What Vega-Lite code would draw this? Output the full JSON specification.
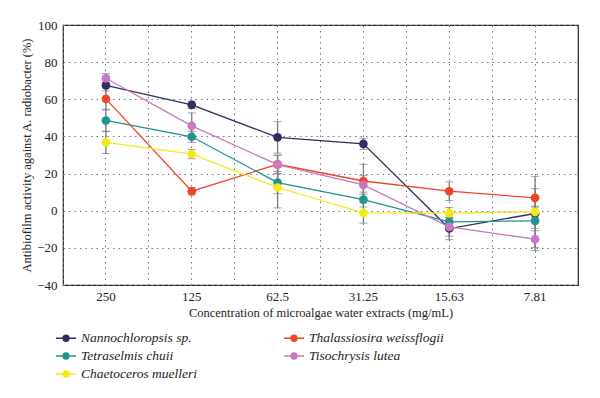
{
  "$schema": "https://vega.github.io/schema/vega-lite/v6.json",
  "width": 515,
  "height": 260,
  "autosize": "none",
  "padding": {"left": 63, "top": 25, "right": 22, "bottom": 113},
  "background": "white",
  "config": {
    "view": {"stroke": "#222", "strokeWidth": 1.2},
    "font": "Liberation Serif, Times New Roman, serif",
    "axisY": {"labelOverlap": false, "grid": true, "gridDash": [1.5, 4], "gridColor": "#777", "domain": false, "ticks": false, "labelFont": "Liberation Serif, Times New Roman, serif", "labelFontSize": 13, "labelColor": "#222", "labelPadding": 6, "titleFont": "Liberation Serif, Times New Roman, serif", "titleFontWeight": "normal", "titleFontSize": 12.5, "titleColor": "#222", "titlePadding": 3}
  },
  "data": {
    "values": [
      {"series": "Nannochloropsis sp.", "conc": "250", "v": 67.5, "sd": 3},
      {"series": "Nannochloropsis sp.", "conc": "125", "v": 57, "sd": 2},
      {"series": "Nannochloropsis sp.", "conc": "62.5", "v": 39.5, "sd": 8.5},
      {"series": "Nannochloropsis sp.", "conc": "31.25", "v": 36, "sd": 3},
      {"series": "Nannochloropsis sp.", "conc": "15.63", "v": -9.6, "sd": 6},
      {"series": "Nannochloropsis sp.", "conc": "7.81", "v": -1.5, "sd": 20},
      {"series": "Thalassiosira weissflogii", "conc": "250", "v": 60.2, "sd": 6},
      {"series": "Thalassiosira weissflogii", "conc": "125", "v": 10.5, "sd": 2},
      {"series": "Thalassiosira weissflogii", "conc": "62.5", "v": 25, "sd": 5},
      {"series": "Thalassiosira weissflogii", "conc": "31.25", "v": 16, "sd": 9},
      {"series": "Thalassiosira weissflogii", "conc": "15.63", "v": 10.5, "sd": 5},
      {"series": "Thalassiosira weissflogii", "conc": "7.81", "v": 6.9, "sd": 5},
      {"series": "Tetraselmis chuii", "conc": "250", "v": 48.6, "sd": 6},
      {"series": "Tetraselmis chuii", "conc": "125", "v": 39.8, "sd": 3},
      {"series": "Tetraselmis chuii", "conc": "62.5", "v": 15.1, "sd": 6},
      {"series": "Tetraselmis chuii", "conc": "31.25", "v": 6, "sd": 4},
      {"series": "Tetraselmis chuii", "conc": "15.63", "v": -6, "sd": 4},
      {"series": "Tetraselmis chuii", "conc": "7.81", "v": -5.5, "sd": 4},
      {"series": "Tisochrysis lutea", "conc": "250", "v": 71.3, "sd": 2.5},
      {"series": "Tisochrysis lutea", "conc": "125", "v": 45.7, "sd": 7},
      {"series": "Tisochrysis lutea", "conc": "62.5", "v": 24.8, "sd": 5},
      {"series": "Tisochrysis lutea", "conc": "31.25", "v": 13.9, "sd": 5},
      {"series": "Tisochrysis lutea", "conc": "15.63", "v": -8.7, "sd": 5},
      {"series": "Tisochrysis lutea", "conc": "7.81", "v": -15.3, "sd": 4.5},
      {"series": "Chaetoceros muelleri", "conc": "250", "v": 36.8, "sd": 6},
      {"series": "Chaetoceros muelleri", "conc": "125", "v": 30.5, "sd": 2.5},
      {"series": "Chaetoceros muelleri", "conc": "62.5", "v": 12.5, "sd": 11},
      {"series": "Chaetoceros muelleri", "conc": "31.25", "v": -1.2, "sd": 5.5},
      {"series": "Chaetoceros muelleri", "conc": "15.63", "v": -1.3, "sd": 3},
      {"series": "Chaetoceros muelleri", "conc": "7.81", "v": -0.6, "sd": 3}
    ]
  },
  "resolve": {"axis": {"x": "independent"}},
  "layer": [
    {
      "mark": {"type": "errorbar", "ticks": {"color": "#7a7a7a", "size": 8}, "rule": {"color": "#7a7a7a", "strokeWidth": 1.3}},
      "encoding": {
        "x": {"field": "conc", "type": "ordinal", "sort": ["250", "125", "62.5", "31.25", "15.63", "7.81"],
          "scale": {"type": "band", "paddingInner": 0, "paddingOuter": 0},
          "axis": {"orient": "top", "bandPosition": 0, "grid": true, "gridDash": [1.5, 4], "gridColor": "#777", "gridWidth": 1, "labels": false, "ticks": false, "domain": false, "title": null}},
        "y": {"field": "v", "type": "quantitative", "scale": {"domain": [-40, 100], "nice": false},
          "axis": {"values": [-40, -20, 0, 20, 40, 60, 80, 100], "title": "Antibiofilm activity against A. radiobacter (%)"}},
        "yError": {"field": "sd"}
      }
    },
    {
      "mark": {"type": "line", "strokeWidth": 1.3},
      "encoding": {
        "x": {"field": "conc", "type": "ordinal", "sort": ["250", "125", "62.5", "31.25", "15.63", "7.81"],
          "axis": {"bandPosition": 0.5, "grid": true, "gridDash": [1.5, 4], "gridColor": "#777", "gridWidth": 1, "domain": false, "ticks": false, "labelAngle": 0, "labelFont": "Liberation Serif, Times New Roman, serif", "labelFontSize": 13, "labelColor": "#222", "labelPadding": 5,
            "title": "Concentration of microalgae water extracts (mg/mL)", "titleFont": "Liberation Serif, Times New Roman, serif", "titleFontWeight": "normal", "titleFontSize": 12.5, "titleColor": "#222", "titlePadding": 3}},
        "y": {"field": "v", "type": "quantitative", "axis": {"values": [-40, -20, 0, 20, 40, 60, 80, 100], "title": "Antibiofilm activity against A. radiobacter (%)"}},
        "color": {"field": "series", "type": "nominal",
          "scale": {"domain": ["Nannochloropsis sp.", "Tetraselmis chuii", "Chaetoceros muelleri", "Thalassiosira weissflogii", "Tisochrysis lutea"],
            "range": ["#2e2d66", "#1f938d", "#f3e81a", "#f0442a", "#c878c0"]},
          "legend": {"title": null, "orient": "none", "legendX": -8, "legendY": 302, "columns": 2, "columnPadding": 83, "rowPadding": -4,
            "labelFont": "Liberation Serif, Times New Roman, serif", "labelFontStyle": "italic", "labelFontSize": 13.5, "labelColor": "#222", "labelLimit": 250,
            "symbolType": "M-1,0H1M-0.3,0A0.3,0.3,0,1,1,0.3,0A0.3,0.3,0,1,1,-0.3,0Z", "symbolSize": 400, "symbolStrokeWidth": 1.3, "symbolOffset": 0}}
      }
    },
    {
      "mark": {"type": "point", "filled": true, "size": 75, "opacity": 1},
      "encoding": {
        "x": {"field": "conc", "type": "ordinal", "sort": ["250", "125", "62.5", "31.25", "15.63", "7.81"], "axis": null},
        "y": {"field": "v", "type": "quantitative", "axis": {"values": [-40, -20, 0, 20, 40, 60, 80, 100], "title": "Antibiofilm activity against A. radiobacter (%)"}},
        "color": {"field": "series", "type": "nominal"}
      }
    }
  ]
}
